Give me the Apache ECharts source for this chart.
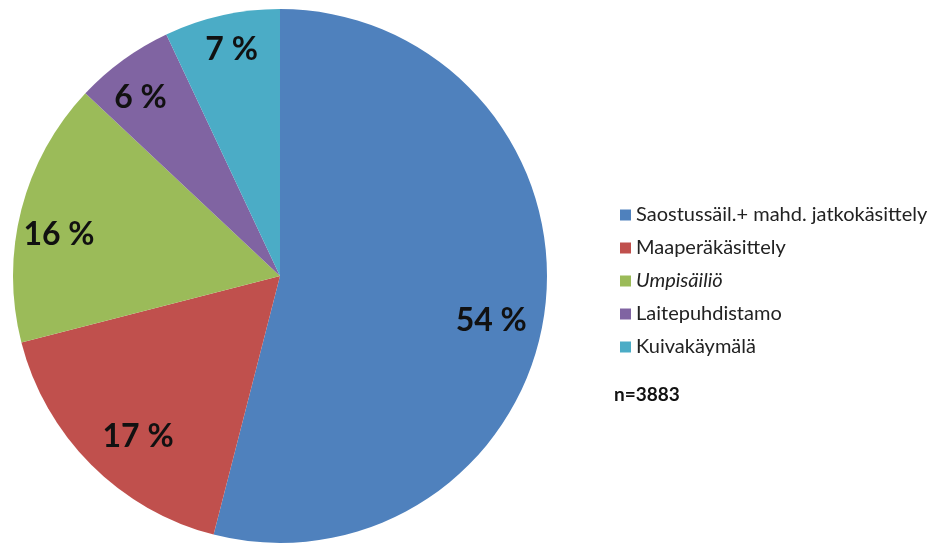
<!DOCTYPE html>
<html>
<head>
<meta charset="utf-8">
<script src="https://cdn.jsdelivr.net/npm/echarts@6/dist/echarts.min.js"></script>
<style>
    html, body { margin: 0; padding: 0; background: #fff; }
    #main { width: 932px; height: 543px; }
</style>
</head>
<body>
<div id="main"></div>
<script>
/* ===================== 数据 ===================== */
var categories = ['Saostussäil.+ mahd. jatkokäsittely', 'Maaperäkäsittely', 'Umpisäiliö', 'Laitepuhdistamo', 'Kuivakäymälä'];
var values = [54, 17, 16, 6, 7];
var sampleText = 'n=3883';
/* ===================== end ===================== */

/* ===================== 样式 ===================== */
var colors = ['#4F81BD', '#C0504D', '#9BBB59', '#8064A2', '#4BACC6'];
// 标签微调 (原图标签并不严格位于扇区中线上)
var labelNudge = [[-9, 17], [15, 4], [-6, 14], [-9, 1], [0, -10]];
var FONT = 'Lato, "Open Sans", sans-serif';
var CENTER = [280, 276];
var R = 267;
/* ===================== end ===================== */

var pieData = categories.map(function (name, i) {
    return { name: name, value: values[i], itemStyle: { color: colors[i] } };
});

var labelData = categories.map(function (name, i) {
    return { name: name + ' ', value: values[i], label: { offset: labelNudge[i] } };
});

var option = {
    animation: false,
    backgroundColor: '#fff',
    legend: {
        orient: 'vertical',
        left: 615,
        top: 199,
        itemWidth: 11,
        itemHeight: 11,
        itemGap: 11,
        icon: 'rect',
        data: categories,
        textStyle: {
            fontFamily: FONT,
            fontSize: 20,
            lineHeight: 22,
            color: '#222',
            rich: {
                it: { fontFamily: FONT, fontSize: 20, lineHeight: 22, fontStyle: 'italic', color: '#222' }
            }
        },
        formatter: function (name) {
            // 第三项在原图中为斜体
            return name === 'Umpisäiliö' ? '{it|' + name + '}' : name;
        }
    },
    graphic: [{
        type: 'text',
        left: 614,
        top: 385,
        style: {
            text: sampleText,
            font: 'bold 19px ' + FONT,
            fill: '#111'
        }
    }],
    series: [
        // 扇区
        {
            type: 'pie',
            center: CENTER,
            radius: R,
            startAngle: 90,
            clockwise: true,
            label: { show: false },
            labelLine: { show: false },
            emphasis: { disabled: true },
            itemStyle: { borderWidth: 0 },
            data: pieData
        },
        // 百分比标签: 透明环, 标签落在约 0.82 半径处
        {
            type: 'pie',
            center: CENTER,
            radius: [R * 0.64, R],
            startAngle: 90,
            clockwise: true,
            silent: true,
            legendHoverLink: false,
            itemStyle: { color: 'transparent', borderWidth: 0 },
            label: {
                show: true,
                position: 'inside',
                formatter: '{c} %',
                fontFamily: FONT,
                fontWeight: 'bold',
                fontSize: 32,
                color: '#111'
            },
            labelLine: { show: false },
            data: labelData
        }
    ]
};

var chart = echarts.init(document.getElementById('main'));
chart.setOption(option);
</script>
</body>
</html>
